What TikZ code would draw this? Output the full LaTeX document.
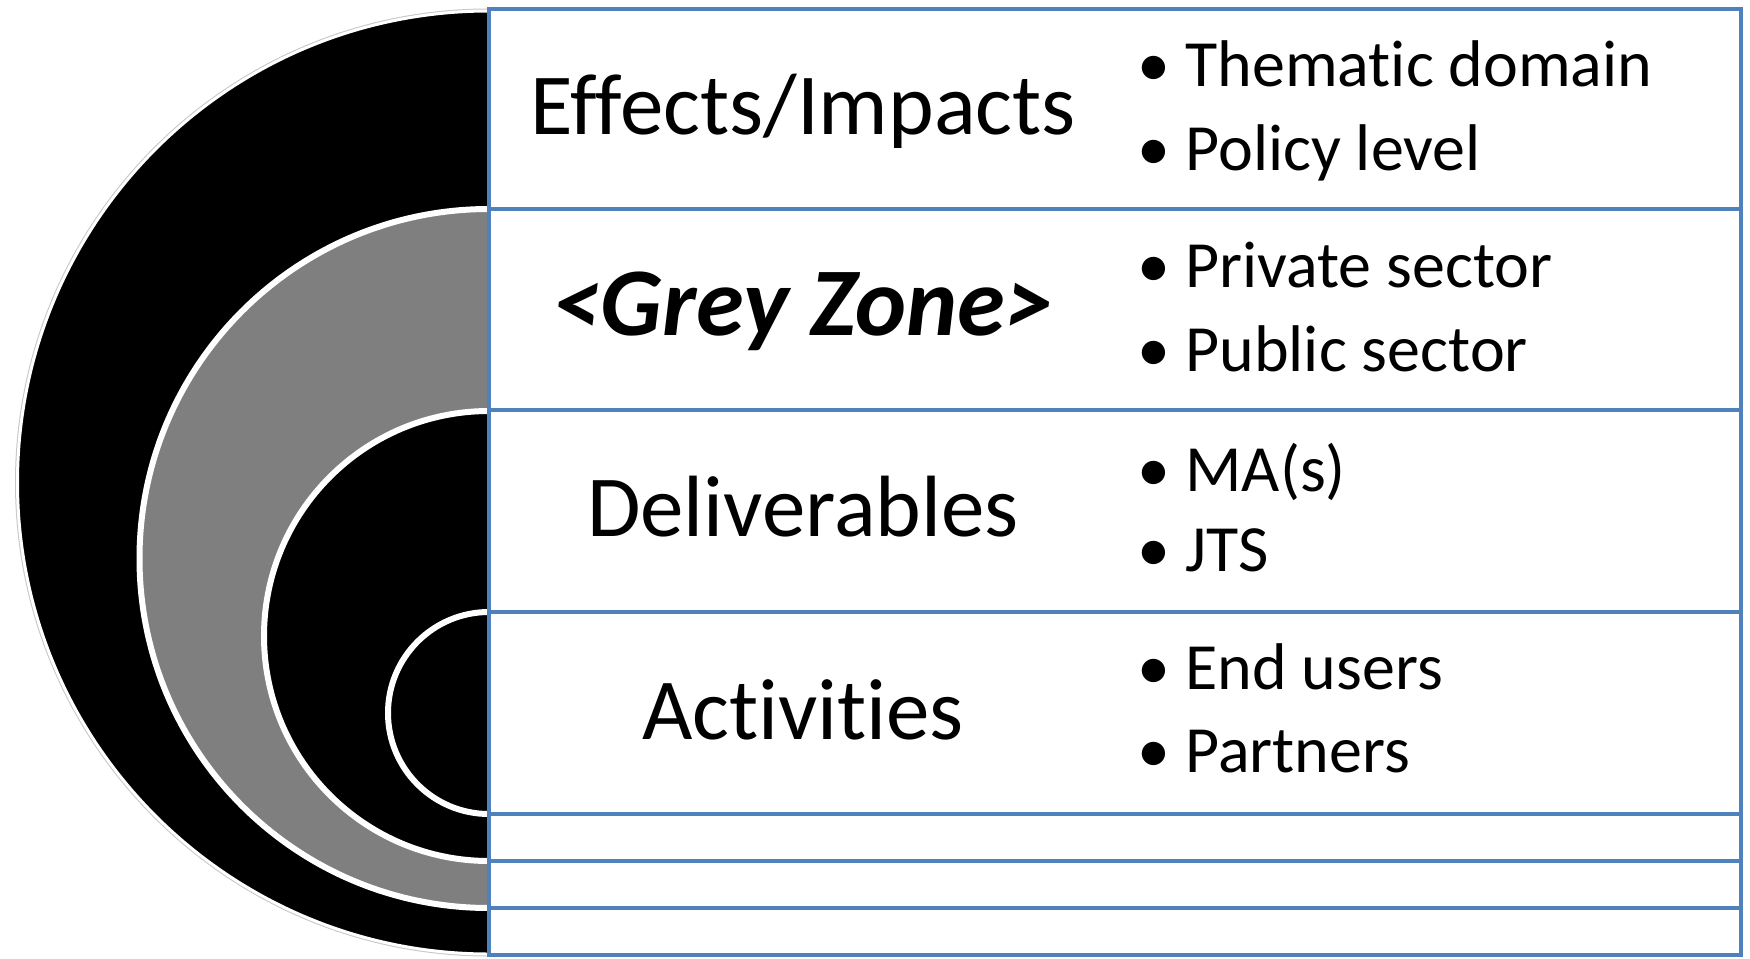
\documentclass[tikz,border=0pt]{standalone}
\usepackage{fontspec}
\setmainfont{Carlito}[Ligatures={NoCommon,NoRare}]
\usepackage{tikz}
\definecolor{rowblue}{HTML}{4F81BD}
\definecolor{ringgrey}{HTML}{7F7F7F}

\tikzset{
  rowbox/.style={draw=rowblue, line width=2pt, fill=white},
  ring/.style={draw=white, line width=3pt},
  title/.style={anchor=base, inner sep=0pt, font=\fontsize{43.5}{43.5}\selectfont},
  bullet/.style={anchor=base, inner sep=0pt, font=\fontsize{33}{33}\selectfont},
  item/.style={anchor=base west, inner sep=0pt, font=\fontsize{33}{33}\selectfont}
}

\begin{document}
\begin{tikzpicture}[x=0.5pt, y=-0.5pt]
\useasboundingbox (0,0) rectangle (1750,958);
% half discs
\draw[gray!45, line width=2.5pt] (489,11) arc (90:270:235.75pt);
\fill[black] (489,11) arc (90:270:235.75pt) -- cycle;
\draw[white, line width=1.5pt] (489,11) arc (90:270:235.75pt);
\fill[ringgrey] (489,209) arc (90:270:174.75pt) -- cycle;
\draw[ring] (489,209) arc (90:270:174.75pt);
\fill[black] (489,411) arc (90:270:112.5pt) -- cycle;
\draw[ring] (489,411) arc (90:270:112.5pt);
\fill[black] (489,612) arc (90:270:50.5pt) -- cycle;
\draw[ring] (489,612) arc (90:270:50.5pt);
% rows
\foreach \t/\b in {9/209, 209/410, 410/612, 612/814, 814/861, 861/908, 908/955}
  \draw[rowbox] (489,\t) rectangle (1741,\b);
% titles
\node[title] (effects) at (803,134) {Effects/Impacts};
\node[title, font=\fontsize{48.5}{48.5}\selectfont\bfseries\itshape] (greyzone) at (803,335) {<Grey Zone>};
\node[title] (deliverables) at (803,536) {Deliverables};
\node[title] (activities) at (803,739) {Activities};
% bullets
\node[bullet] (b1) at (1154,86) {\textbullet};
\node[item] (thematic) at (1185,86) {Thematic domain};
\node[bullet] (b2) at (1154,170) {\textbullet};
\node[item] (policy) at (1185,170) {Policy level};
\node[bullet] (b3) at (1154,287) {\textbullet};
\node[item] (private) at (1185,287) {Private sector};
\node[bullet] (b4) at (1154,371) {\textbullet};
\node[item] (public) at (1185,371) {Public sector};
\node[bullet] (b5) at (1154,491) {\textbullet};
\node[item] (mas) at (1185,491) {MA(s)};
\node[bullet] (b6) at (1154,571) {\textbullet};
\node[item] (jts) at (1185,571) {JTS};
\node[bullet] (b7) at (1154,689) {\textbullet};
\node[item] (endusers) at (1185,689) {End users};
\node[bullet] (b8) at (1154,772) {\textbullet};
\node[item] (partners) at (1185,772) {Partners};
\end{tikzpicture}
\end{document}
